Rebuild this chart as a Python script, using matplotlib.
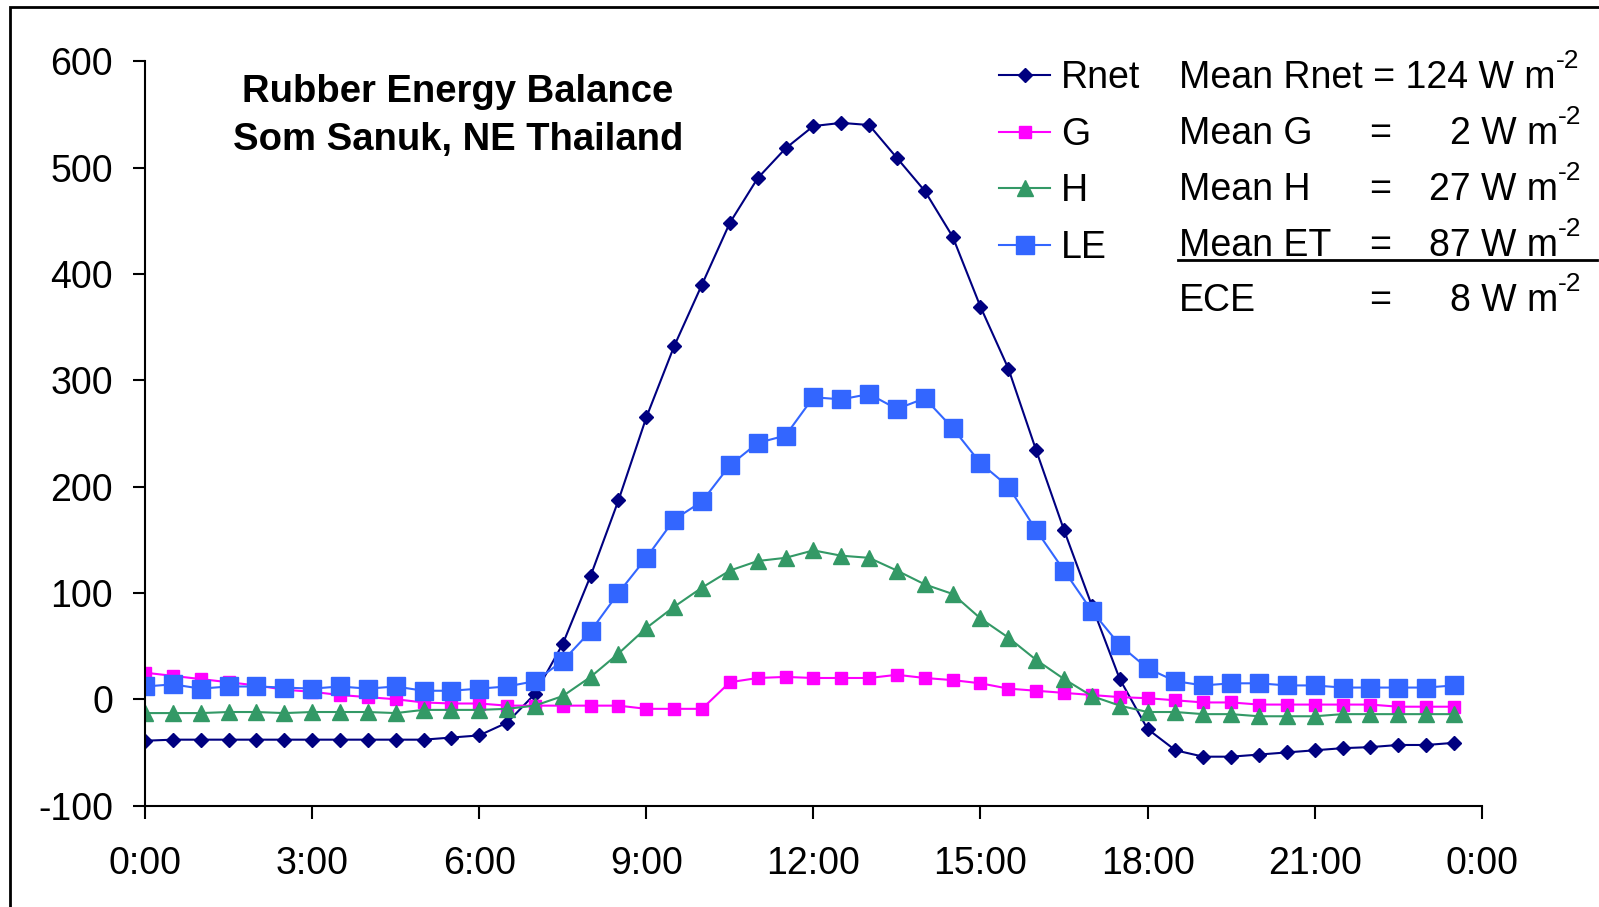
import numpy as np
import matplotlib
matplotlib.use('Agg')
import matplotlib.pyplot as plt
from matplotlib.patches import Rectangle
from matplotlib.lines import Line2D

plt.rcParams['font.family'] = ['Liberation Sans', 'DejaVu Sans']
plt.rcParams['axes.unicode_minus'] = False

# ── Data (half-hourly, W m-2) ─────────────────────────────
hours = np.arange(0, 24, 0.5)

rnet = [-39, -38, -38, -38, -38, -38, -38, -38, -38, -38, -38, -36, -34, -22,
        5, 52, 116, 187, 265, 332, 390, 448, 490, 518, 539, 542, 540, 509,
        478, 435, 369, 311, 234, 159, 88, 19, -28, -48, -54, -54, -52, -50,
        -48, -46, -45, -43, -43, -41]
g = [25, 22, 19, 16, 13, 9, 7, 4, 2, 0, -3, -4, -4, -6,
     -6, -6, -6, -6, -9, -9, -9, 16, 20, 21, 20, 20, 20, 23,
     20, 18, 15, 10, 8, 6, 4, 2, 1, -1, -3, -3, -5, -5,
     -5, -5, -5, -7, -7, -7]
h = [-13, -13, -13, -12, -12, -13, -12, -12, -12, -13, -10, -10, -10, -9,
     -6, 3, 21, 43, 67, 87, 105, 121, 130, 133, 140, 135, 133, 121,
     108, 99, 76, 58, 37, 19, 3, -6, -12, -12, -14, -14, -16, -16,
     -16, -14, -14, -14, -14, -14]
le = [12, 14, 10, 12, 12, 11, 10, 12, 10, 12, 8, 8, 10, 12,
      17, 36, 64, 100, 133, 169, 186, 220, 241, 248, 284, 282, 287, 273,
      283, 255, 222, 200, 159, 121, 83, 51, 29, 17, 13, 15, 15, 13,
      13, 11, 11, 11, 11, 13]

xticks = [0, 3, 6, 9, 12, 15, 18, 21, 24]
xlabels = ['0:00', '3:00', '6:00', '9:00', '12:00', '15:00', '18:00', '21:00', '0:00']

stat_names = ['Mean G', 'Mean H', 'Mean ET', 'ECE']
stat_vals = [2, 27, 87, 8]
mean_rnet = 124

# ── Figure ────────────────────────────────────────────────
W, H = 1599, 907
fig = plt.figure(figsize=(W / 100, H / 100), dpi=100)
fx = lambda x: x / W
fy = lambda y: 1 - y / H

ax = fig.add_axes([fx(145), fy(805.6), fx(1481.8) - fx(145), fy(61.2) - fy(805.6)])

ax.plot(hours, rnet, color='#000080', marker='D', ms=7.5, lw=1.5, label='Rnet')
ax.plot(hours, g, color='#FF00FF', marker='s', ms=8, lw=1.5, label='G')
ax.plot(hours, h, color='#339966', marker='^', ms=11, lw=1.5, label='H')
ax.plot(hours, le, color='#3366FF', marker='s', ms=13, lw=1.5, label='LE')

ax.set_xlim(0, 24)
ax.set_ylim(-100, 600)
ax.set_xticks(xticks)
ax.set_xticklabels(xlabels)
ax.set_yticks(range(-100, 601, 100))
for s in ['top', 'right']:
    ax.spines[s].set_visible(False)
for s in ['left', 'bottom']:
    ax.spines[s].set_linewidth(1.5)
ax.tick_params(axis='both', direction='out', length=9, width=1.5, labelsize=27)
ax.tick_params(axis='y', pad=14)
ax.tick_params(axis='x', pad=20)

leg = ax.legend(loc='upper left', bbox_to_anchor=(fx(999), fy(60)),
                bbox_transform=fig.transFigure, frameon=False, fontsize=27,
                numpoints=1, handlelength=1.36, handletextpad=0.3,
                labelspacing=0.55, borderpad=0, borderaxespad=0)

# ── Title ─────────────────────────────────────────────────
fig.text(fx(458), fy(92), 'Rubber Energy Balance', ha='center', va='center',
         fontsize=27.5, fontweight='bold')
fig.text(fx(458), fy(140), 'Som Sanuk, NE Thailand', ha='center', va='center',
         fontsize=27.5, fontweight='bold')

# ── Means ─────────────────────────────────────────────────
def sup(parent):
    # superscript "-2" attached to the top-right corner of the unit text
    return fig.add_artist(plt.Annotation('-2', xy=(1.0, 0.98), xycoords=parent,
                                         fontsize=19, ha='left', va='center'))

t0 = fig.text(fx(1179), fy(78), f'Mean Rnet = {mean_rnet} W m',
              ha='left', va='center', fontsize=27)
sup(t0)
rows_y = [134, 190, 246, 301]
for name, val, y in zip(stat_names, stat_vals, rows_y):
    fig.text(fx(1179), fy(y), name, ha='left', va='center', fontsize=27)
    fig.text(fx(1380), fy(y), '=', ha='center', va='center', fontsize=27)
    tv = fig.text(fx(1558), fy(y), f'{val} W m', ha='right', va='center', fontsize=27)
    sup(tv)
fig.add_artist(Line2D([fx(1178), fx(1597)], [fy(260), fy(260)],
                      transform=fig.transFigure, color='black', lw=2))

# outer frame (cropped at right and bottom)
fig.patches.append(Rectangle((fx(10), fy(940)), 1.2, fy(7) - fy(940),
                             transform=fig.transFigure, fill=False,
                             edgecolor='black', lw=2, clip_on=False))

plt.savefig('out.png', dpi=100)
